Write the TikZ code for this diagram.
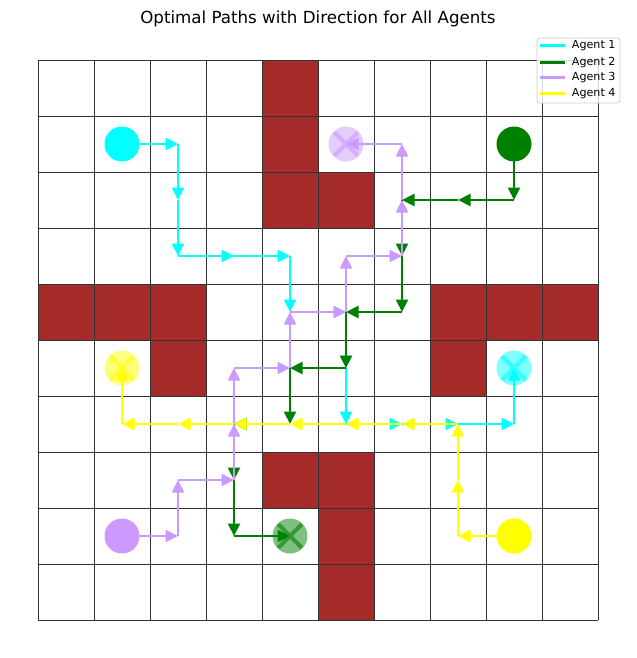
\documentclass[tikz,border=0pt]{standalone}
\usepackage{fontspec}
\setmainfont{DejaVu Sans}
\usetikzlibrary{arrows.meta,shapes.misc}

\definecolor{agentone}{HTML}{00FFFF}
\definecolor{agenttwo}{HTML}{008000}
\definecolor{agentthree}{HTML}{CC99FF}
\definecolor{agentfour}{HTML}{FFFF00}
\definecolor{wallred}{HTML}{A52A2A}

\begin{document}
\begin{tikzpicture}[
                x=0.72pt,
                y=-0.72pt,
                wall/.style={
                    fill=wallred
                },
                gridline/.style={
                    draw=black!80,
                    line width=0.6pt
                },
                move/.style={
                    line width=1.8pt,
                    -{Triangle[length=9pt,width=8.6pt]}
                },
                startdot/.style={
                    circle,
                    fill=#1,
                    minimum size=25.2pt,
                    inner sep=0pt
                },
                goaldot/.style={
                    circle,
                    fill=#1,
                    fill opacity=0.5,
                    minimum size=25.2pt,
                    inner sep=0pt
                },
                goalcross/.style={
                    cross out,
                    draw=#1,
                    draw opacity=0.6,
                    line width=2.9pt,
                    minimum size=14pt,
                    inner sep=0pt
                },
                legendbox/.style={
                    draw=black!20,
                    fill=white,
                    fill opacity=0.8,
                    rounded corners=2pt,
                    line width=0.6pt
                }
            ]

                \useasboundingbox (0,0) rectangle (636,658);

                \node[font=\fontsize{12}{14}\selectfont] (title) at (318,18.5) {Optimal Paths with Direction for All Agents};

                \foreach \i in {0,...,9}
                    \foreach \j in {0,...,9}
                        \coordinate (c-\i-\j) at ({66+56*\i},{88+56*\j});

                \foreach \i/\j in {4/0,4/1,4/2,5/2,0/4,1/4,2/4,7/4,8/4,9/4,2/5,7/5,4/7,5/7,5/8,5/9}
                    \fill[wall] ({38+56*\i},{60+56*\j}) rectangle ++(56,56);

                \foreach \k in {0,...,10} {
                    \draw[gridline] ({38+56*\k},60) -- ({38+56*\k},620);
                    \draw[gridline] (38,{60+56*\k}) -- (598,{60+56*\k});
                }

                % agent 1
                \foreach \p [remember=\p as \q (initially c-1-1)] in {c-2-1,c-2-2,c-2-3,c-3-3,c-4-3,c-4-4,c-5-4,c-5-5,c-5-6,c-6-6,c-7-6,c-8-6,c-8-5}
                    \draw[move,agentone] (\q) -- (\p);
                \node[startdot=agentone] (start1) at (c-1-1) {};
                \node[goaldot=agentone] (goal1) at (c-8-5) {};
                \node[goalcross=agentone] (cross1) at (c-8-5) {};

                % agent 2
                \foreach \p [remember=\p as \q (initially c-8-1)] in {c-8-2,c-7-2,c-6-2,c-6-3,c-6-4,c-5-4,c-5-5,c-4-5,c-4-6,c-3-6,c-3-7,c-3-8,c-4-8}
                    \draw[move,agenttwo] (\q) -- (\p);
                \node[startdot=agenttwo] (start2) at (c-8-1) {};
                \node[goaldot=agenttwo] (goal2) at (c-4-8) {};
                \node[goalcross=agenttwo] (cross2) at (c-4-8) {};

                % agent 3
                \foreach \p [remember=\p as \q (initially c-1-8)] in {c-2-8,c-2-7,c-3-7,c-3-6,c-3-5,c-4-5,c-4-4,c-5-4,c-5-3,c-6-3,c-6-2,c-6-1,c-5-1}
                    \draw[move,agentthree] (\q) -- (\p);
                \node[startdot=agentthree] (start3) at (c-1-8) {};
                \node[goaldot=agentthree] (goal3) at (c-5-1) {};
                \node[goalcross=agentthree] (cross3) at (c-5-1) {};

                % agent 4
                \foreach \p [remember=\p as \q (initially c-8-8)] in {c-7-8,c-7-7,c-7-6,c-6-6,c-5-6,c-4-6,c-3-6,c-2-6,c-1-6,c-1-5}
                    \draw[move,agentfour] (\q) -- (\p);
                \node[startdot=agentfour] (start4) at (c-8-8) {};
                \node[goaldot=agentfour] (goal4) at (c-1-5) {};
                \node[goalcross=agentfour] (cross4) at (c-1-5) {};

                \draw[legendbox] (537,38) rectangle (620,103);
                \foreach \n/\c/\y in {1/agentone/45.7,2/agenttwo/62.3,3/agentthree/77.7,4/agentfour/93.3} {
                    \coordinate (key-\n) at (540,\y);
                    \coordinate (keyend-\n) at (565,\y);
                    \draw[\c,line width=1.8pt] (key-\n) -- (keyend-\n);
                    \node[anchor=west,inner sep=0pt,font=\fontsize{8}{9.6}\selectfont] (label-\n) at (571.7,\y) {Agent \n};
                }

            \end{tikzpicture}
\end{document}
